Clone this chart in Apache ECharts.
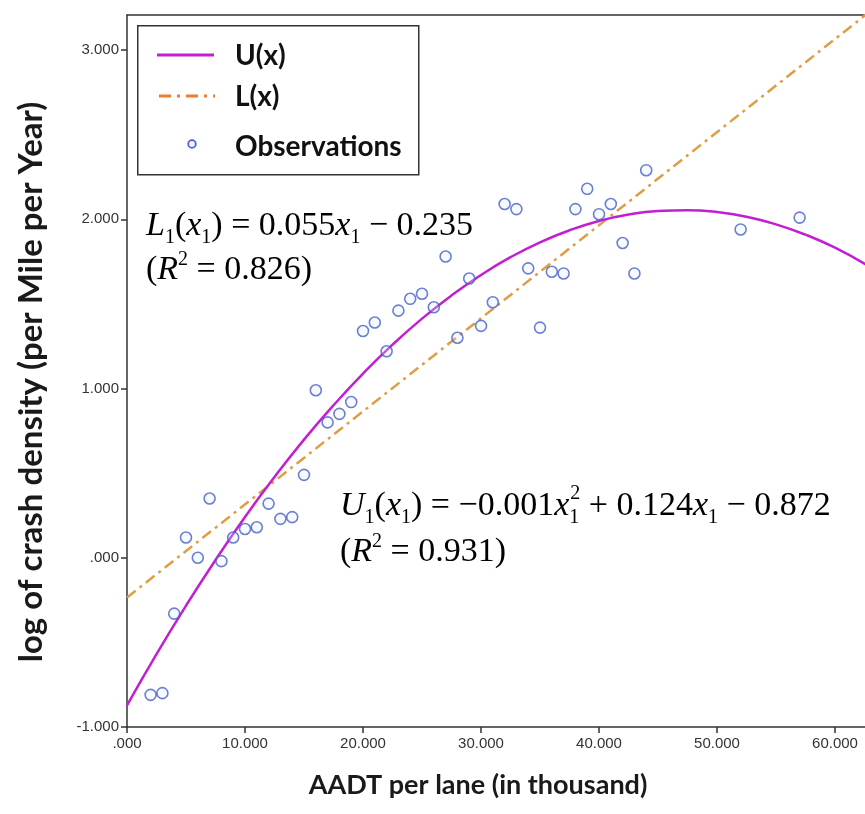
<!DOCTYPE html>
<html>
<head>
<meta charset="utf-8">
<script src="https://cdn.jsdelivr.net/npm/echarts@6/dist/echarts.min.js"></script>
<style>
html,body{margin:0;padding:0;background:#fff;}
#chart{width:865px;height:814px;}
</style>
</head>
<body>
<div id="chart"></div>
<script>
// ---- data ----
const xTicks = [0, 10, 20, 30, 40, 50, 60];
const yTicks = [-1, 0, 1, 2, 3];

const obsX = [2, 3, 4, 5, 6, 7, 8, 9, 10, 11, 12, 13, 14, 15, 16, 17, 18, 19, 20, 21, 22, 23, 24, 25, 26, 27, 28, 29, 30, 31, 32, 33, 34, 35, 36, 37, 38, 39, 40, 41, 42, 43, 44, 52, 57];
const obsY = [-0.81, -0.80, -0.33, 0.12, 0.00, 0.35, -0.02, 0.12, 0.17, 0.18, 0.32, 0.23, 0.24, 0.49, 0.99, 0.80, 0.85, 0.92, 1.34, 1.39, 1.22, 1.46, 1.53, 1.56, 1.48, 1.78, 1.30, 1.65, 1.37, 1.51, 2.09, 2.06, 1.71, 1.36, 1.69, 1.68, 2.06, 2.18, 2.03, 2.09, 1.86, 1.68, 2.29, 1.94, 2.01];

// U(x) quadratic fit curve
const uX = [0, 2.5, 5, 7.5, 10, 12.5, 15, 17.5, 20, 22.5, 25, 27.5, 30, 32.5, 35, 37.5, 40, 42.5, 45, 47.5, 50, 52.5, 55, 57.5, 60, 62.6];
const uY = [-0.872, -0.569, -0.283, -0.013, 0.241, 0.477, 0.698, 0.901, 1.088, 1.259, 1.413, 1.550, 1.671, 1.776, 1.864, 1.935, 1.990, 2.028, 2.049, 2.054, 2.043, 2.015, 1.970, 1.909, 1.832, 1.733];

// L(x) linear fit line
const lX = [0, 62.6];
const lY = [-0.235, 3.208];

const legendNames = ['U(x)', 'L(x)', 'Observations'];

// ---- chart ----
const zip = (a, b) => a.map((v, i) => [v, b[i]]);
const fmt = v => (v === 0 ? '.000' : v.toFixed(3));

const chart = echarts.init(document.getElementById('chart'), null, {renderer: 'canvas'});

const serif = "'Liberation Serif', 'DejaVu Serif', serif";
const FS = 34, SS = 20;
const rich = {
  it: {fontFamily: serif, fontStyle: 'italic', fontSize: FS, color: '#111'},
  n: {fontFamily: serif, fontSize: FS, color: '#111'},
  sub: {fontFamily: serif, fontSize: SS, color: '#111', verticalAlign: 'bottom', lineHeight: 44},
  subz: {fontFamily: serif, fontSize: SS, color: '#111', verticalAlign: 'bottom', lineHeight: 44, width: 1},
  sup: {fontFamily: serif, fontSize: SS, color: '#111', verticalAlign: 'top', lineHeight: 40}
};

const legendFont = "Lato, 'Open Sans', sans-serif";
const axisLineStyle = {color: '#333', width: 1.5};

const option = {
  backgroundColor: '#ffffff',
  animation: false,
  grid: {
    left: 127, top: 15, right: 0, bottom: 87,
    show: false
  },
  xAxis: [{
    type: 'value', min: 0, max: 62.54, interval: 10,
    name: 'AADT per lane (in thousand)',
    nameLocation: 'middle', nameGap: 45,
    nameTextStyle: {fontFamily: legendFont, fontWeight: 'bold', fontSize: 27, color: '#1a1a1a', padding: [0, 36, 0, 0]},
    axisLine: {show: true, onZero: false, lineStyle: axisLineStyle},
    axisTick: {show: true, length: 6, inside: false, customValues: xTicks, lineStyle: axisLineStyle},
    axisLabel: {customValues: xTicks, formatter: fmt, margin: 9, fontFamily: "'Liberation Sans', Arial, sans-serif", fontSize: 15, color: '#333'},
    splitLine: {show: false}
  }, {
    type: 'value', position: 'top', min: 0, max: 62.54,
    axisLine: {show: true, onZero: false, lineStyle: axisLineStyle},
    axisTick: {show: false}, axisLabel: {show: false}, splitLine: {show: false}
  }],
  yAxis: {
    type: 'value', min: -1, max: 3.207, interval: 1,
    name: 'log of crash density (per Mile per Year)',
    nameLocation: 'middle', nameGap: 79, nameRotate: 90,
    nameTextStyle: {fontFamily: legendFont, fontWeight: 'bold', fontSize: 33, color: '#1a1a1a', padding: [0, 22, 0, 0]},
    axisLine: {show: true, onZero: false, lineStyle: axisLineStyle},
    axisTick: {show: true, length: 6, inside: false, customValues: yTicks, lineStyle: axisLineStyle},
    axisLabel: {customValues: yTicks, formatter: fmt, margin: 8, fontFamily: "'Liberation Sans', Arial, sans-serif", fontSize: 15, color: '#333'},
    splitLine: {show: false}
  },
  series: [
    {
      name: legendNames[1], type: 'line', data: zip(lX, lY), showSymbol: false, clip: true,
      lineStyle: {color: '#e09d42', width: 2.5, type: [11, 5, 3, 5]}, z: 2
    },
    {
      name: legendNames[0], type: 'line', data: zip(uX, uY), showSymbol: false, smooth: true, clip: true,
      lineStyle: {color: '#c21fd2', width: 2.5}, z: 3
    },
    {
      name: legendNames[2], type: 'scatter', data: zip(obsX, obsY), symbol: 'circle', symbolSize: 11,
      itemStyle: {color: 'rgba(225,238,255,0.35)', borderColor: '#4760c6', borderWidth: 1.6}, z: 4
    }
  ],
  graphic: [
    // legend box
    {type: 'rect', left: 137, top: 25, shape: {width: 281, height: 149}, style: {fill: '#fff', stroke: '#333', lineWidth: 1.5}, z: 10},
    {type: 'line', shape: {x1: 157, y1: 55, x2: 214, y2: 55}, style: {stroke: '#c21fd2', lineWidth: 3}, z: 11},
    {type: 'text', left: 235, top: 42, style: {text: legendNames[0], font: "bold 28px " + legendFont, fill: '#111'}, z: 11},
    {type: 'line', shape: {x1: 159, y1: 96, x2: 215, y2: 96}, style: {stroke: '#ef7c33', lineWidth: 3, lineDash: [12, 6, 3, 6]}, z: 11},
    {type: 'text', left: 235, top: 83, style: {text: legendNames[1], font: "bold 28px " + legendFont, fill: '#111'}, z: 11},
    {type: 'circle', shape: {cx: 192, cy: 144, r: 3.8}, style: {fill: 'rgba(225,238,255,0.5)', stroke: '#5560d0', lineWidth: 1.8}, z: 11},
    {type: 'text', left: 235, top: 133, style: {text: legendNames[2], font: "bold 28px " + legendFont, fill: '#111'}, z: 11},
    // equations
    {type: 'text', left: 146, top: 209, z: 12, style: {
      text: '{it|L}{sub|1}{n|(}{it|x}{sub|1}{n|) = 0.055}{it|x}{sub|1}{n| − 0.235}', rich: rich}},
    {type: 'text', left: 146, top: 250, z: 12, style: {
      text: '{n|(}{it|R}{sup|2}{n| = 0.826)}', rich: rich}},
    {type: 'text', left: 340, top: 484, z: 12, style: {
      text: '{it|U}{sub|1}{n|(}{it|x}{sub|1}{n|) = −0.001}{it|x}{subz|1}{sup|2}{n| + 0.124}{it|x}{sub|1}{n| − 0.872}', rich: rich}},
    {type: 'text', left: 340, top: 532, z: 12, style: {
      text: '{n|(}{it|R}{sup|2}{n| = 0.931)}', rich: rich}}
  ]
};
chart.setOption(option);
</script>
</body>
</html>
